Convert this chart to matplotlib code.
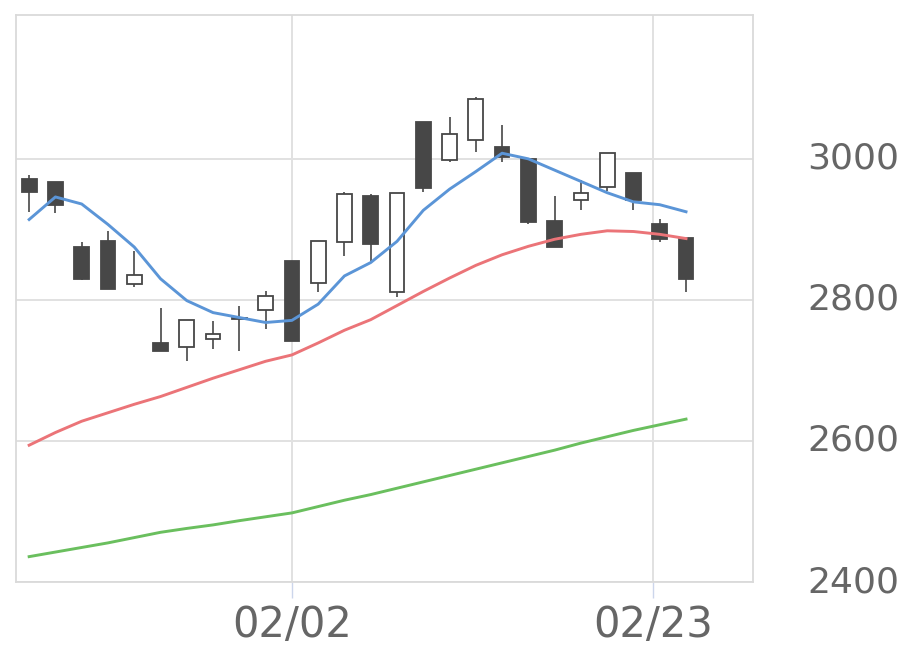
import matplotlib
matplotlib.use("Agg")
import matplotlib.pyplot as plt

# daily candles
opens = [2971.6, 2967.0, 2874.8, 2884.1, 2823.1, 2739.4, 2732.9, 2744.7, 2774.5, 2785.4,
         2855.7, 2823.7, 2882.7, 2948.0, 2811.8, 3052.0, 2998.6, 3026.9, 3016.6, 3000.0,
         2912.5, 2941.8, 2960.7, 2980.6, 2907.4, 2888.4]
highs = [2977.3, 2967.0, 2881.9, 2898.3, 2869.9, 2789.0, 2772.0, 2770.2, 2792.0, 2812.8,
         2855.7, 2883.7, 2952.8, 2950.4, 2952.2, 3052.0, 3059.1, 3088.4, 3048.2, 3000.0,
         2948.0, 2970.2, 3008.9, 2980.6, 2914.5, 2888.4]
lows = [2925.3, 2923.0, 2828.0, 2815.6, 2818.0, 2727.7, 2713.9, 2730.0, 2727.7, 2758.4,
        2741.8, 2810.9, 2862.8, 2855.7, 2804.3, 2953.6, 2996.2, 3010.4, 2996.2, 2907.8,
        2874.8, 2927.2, 2955.0, 2927.2, 2881.8, 2810.9]
closes = [2953.6, 2934.8, 2829.8, 2815.6, 2835.9, 2727.7, 2771.6, 2751.4, 2773.0, 2805.7,
          2741.8, 2883.7, 2950.4, 2879.9, 2952.2, 2958.4, 3035.5, 3085.1, 3003.3, 2911.1,
          2874.8, 2952.2, 3008.9, 2941.8, 2886.5, 2829.8]

# moving averages
ma_short = [2914, 2946, 2936, 2907, 2875, 2830, 2799, 2782, 2775, 2768,
            2771, 2794, 2834, 2853, 2883, 2927, 2957, 2982, 3008, 3000,
            2984, 2968, 2952, 2939, 2935, 2925]
ma_mid = [2594, 2612, 2628, 2640, 2652, 2663, 2676, 2689, 2701, 2713,
          2722, 2739, 2757, 2772, 2792, 2812, 2831, 2849, 2864, 2876,
          2886, 2893, 2898, 2897, 2893, 2887]
ma_long = [2436, 2442.5, 2449, 2455.5, 2463, 2470.5, 2476, 2481, 2487, 2492.5,
           2498, 2507, 2516, 2524, 2533, 2542, 2551, 2560, 2569, 2578,
           2587, 2597, 2606, 2615, 2623, 2631]

date_ticks = [10, 23.74]
date_labels = ["02/02", "02/23"]
price_ticks = [2400, 2600, 2800, 3000]

dark = "#474747"
text_grey = "#666666"
grid_grey = "#e1e1e1"

fig = plt.figure(figsize=(9.2, 6.69), dpi=100)
ax = fig.add_axes([0.0174, 0.130, 0.8011, 0.8476])

x = list(range(len(opens)))

# wicks
ax.vlines(x, lows, highs, color=dark, linewidth=1.2, zorder=2)

# bodies
fills = [dark if c < o else "white" for o, c in zip(opens, closes)]
heights = [c - o if abs(c - o) > 1.2 else -1.2 for o, c in zip(opens, closes)]
ax.bar(x, heights, bottom=opens, width=0.56, color=fills, edgecolor=dark,
       linewidth=1.3, zorder=3)

ax.plot(x, ma_long, color="#6abf5e", linewidth=2.1, zorder=4)
ax.plot(x, ma_mid, color="#eb7478", linewidth=2.1, zorder=4)
ax.plot(x, ma_short, color="#5b95d7", linewidth=2.1, zorder=4)

ax.set_xlim(-0.5, 27.55)
ax.set_ylim(2400, 3204)

ax.set_xticks(date_ticks)
ax.set_xticklabels(date_labels)
ax.set_yticks(price_ticks)
ax.yaxis.tick_right()

ax.grid(True, color=grid_grey, linewidth=1.4, zorder=0)
ax.set_axisbelow(True)

for s in ax.spines.values():
    s.set_color("#dadada")
    s.set_linewidth(1.3)

ax.tick_params(axis="x", length=11.5, width=1, color="#ccd6eb", pad=4,
               labelsize=30, labelcolor=text_grey)
ax.tick_params(axis="y", length=0, pad=39, labelsize=26, labelcolor=text_grey)
for lab in ax.get_yticklabels():
    lab.set_verticalalignment("center")

fig.savefig("out.png", dpi=100)
